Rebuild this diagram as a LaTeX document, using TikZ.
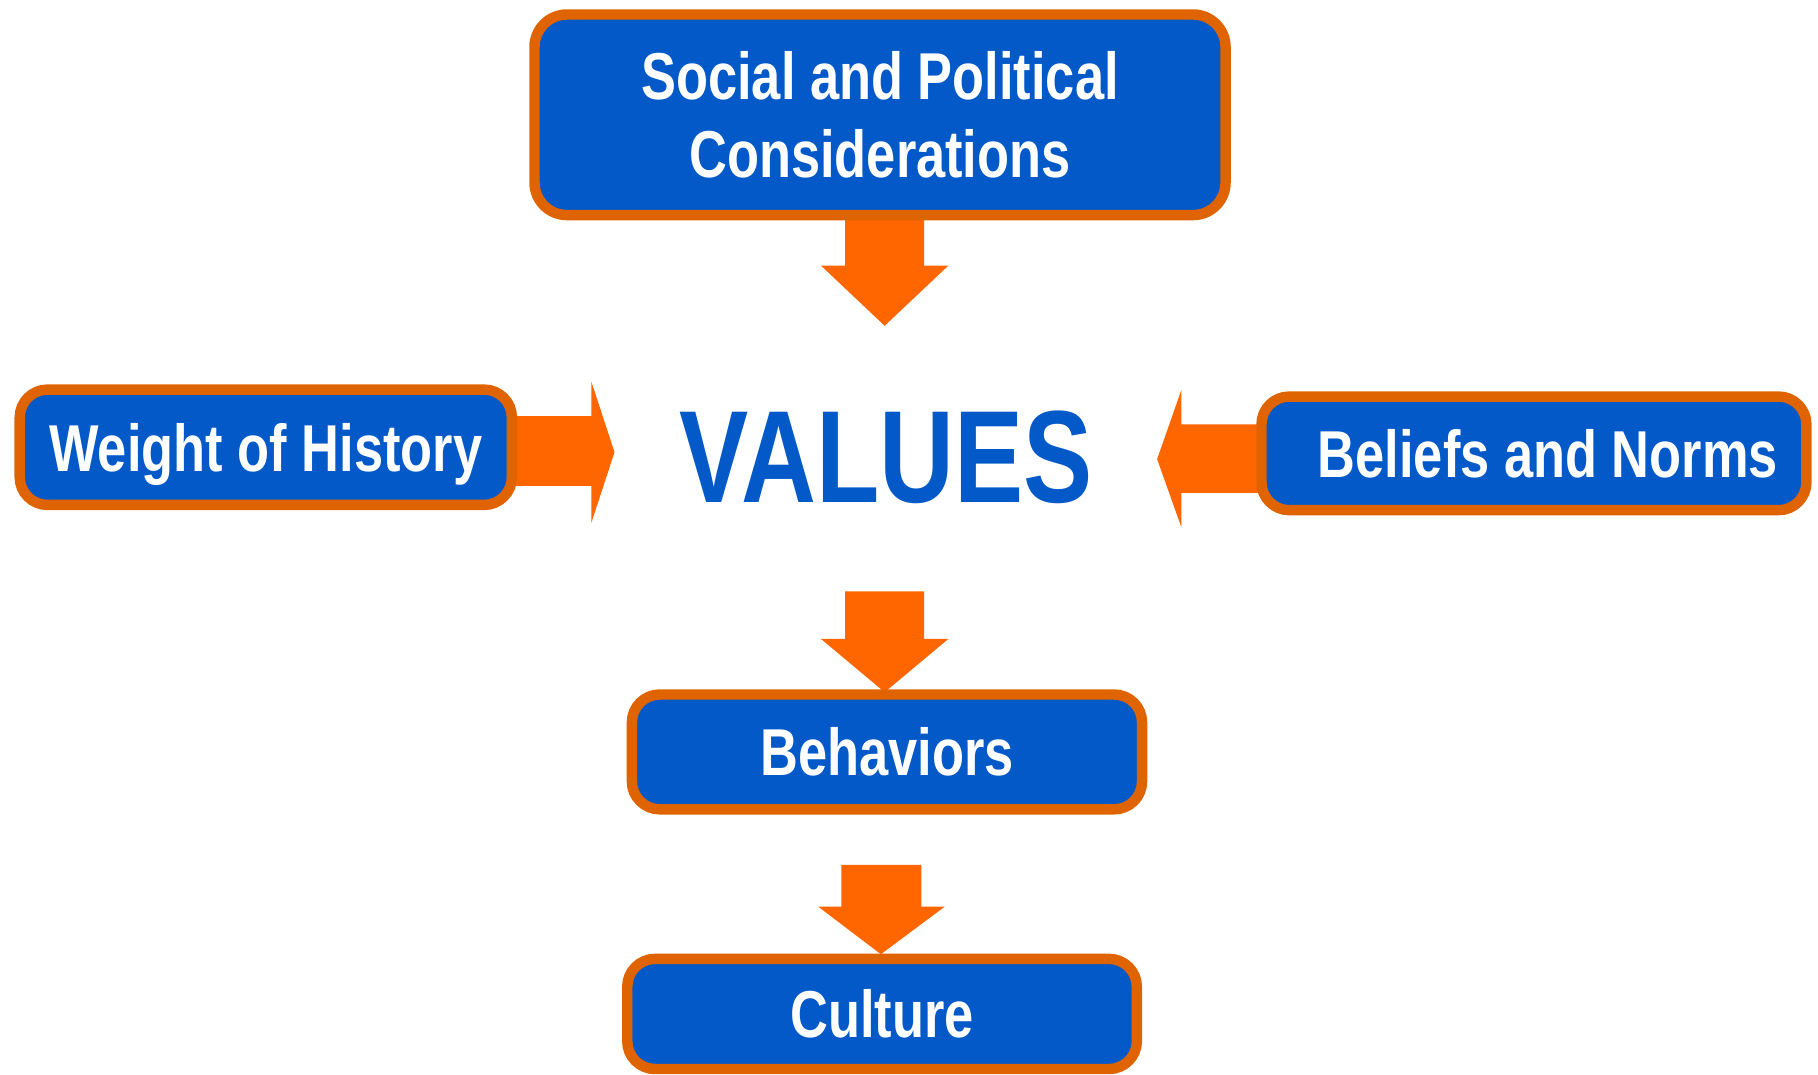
\documentclass[tikz,border=0pt]{standalone}
\usepackage{fontspec}
\newfontfamily\diagfont{Liberation Sans}[FakeStretch=0.79]
\usetikzlibrary{backgrounds,calc}
\definecolor{boxblue}{HTML}{0359C8}
\definecolor{boxorange}{HTML}{DF6400}
\definecolor{arroworange}{HTML}{FF6600}
\begin{document}
\begin{tikzpicture}[x=0.5pt,y=-0.5pt,
  basebox/.style={draw=boxorange, fill=boxblue, line width=4.5pt, rounded corners=12pt,
    text=white, font=\diagfont\bfseries\fontsize{28.6pt}{33.5pt}\selectfont, inner sep=0pt, outer sep=0pt},
  onebox/.style={basebox, text height=20.5pt, text depth=0pt},
  blockarrow/.style={fill=arroworange},
  valuestext/.style={text=boxblue, font=\diagfont\bfseries\fontsize{56.6pt}{60pt}\selectfont, inner sep=0pt}]
\useasboundingbox (0,0) rectangle (1568,927);

\node[basebox, rounded corners=14pt, align=center, minimum width=298pt, minimum height=86.5pt] (top) at (759,99)
  {Social and Political\\Considerations};
\node[onebox, minimum width=212.25pt, minimum height=49.75pt] (weight) at (229.25,385.75) {Weight of History};
\node[onebox, minimum width=235pt, minimum height=49pt] (beliefs) at (1323,391) {\hspace*{12pt}Beliefs and Norms};
\node[valuestext, anchor=base] (values) at (764.5,433) {VALUES};
\node[onebox, minimum width=220pt, minimum height=49.5pt] (behav) at (765,648.5) {Behaviors};
\node[onebox, minimum width=219.75pt, minimum height=47.5pt] (culture) at (760.75,874.5) {Culture};

\begin{pgfonlayer}{background}
  % Social and Political -> VALUES
  \fill[blockarrow] ($(top.south)+(-30,0)$) -- ++(0,43.5) -- ++(-21,0) -- ++(55,52) -- ++(55,-52)
    -- ++(-21,0) -- ++(0,-43.5) -- cycle;
  % Weight of History -> VALUES
  \fill[blockarrow] ($(weight.east)+(0,-26.75)$) -- ++(68.5,0) -- ++(0,-30) -- ++(20,61) -- ++(-20,61)
    -- ++(0,-32) -- ++(-68.5,0) -- cycle;
  % Beliefs and Norms -> VALUES
  \fill[blockarrow] ($(beliefs.west)+(0,-25)$) -- ++(-69,0) -- ++(0,-30) -- ++(-21,60) -- ++(21,59)
    -- ++(0,-30) -- ++(69,0) -- cycle;
  % VALUES -> Behaviors
  \fill[blockarrow] ($(behav.north)+(-2,-2)$) -- ++(-55,-46) -- ++(21,0) -- ++(0,-41) -- ++(68,0)
    -- ++(0,41) -- ++(21,0) -- cycle;
  % Behaviors -> Culture
  \fill[blockarrow] ($(culture.north)+(-1,-4)$) -- ++(-54,-41) -- ++(20,0) -- ++(0,-36) -- ++(69,0)
    -- ++(0,36) -- ++(20,0) -- cycle;
\end{pgfonlayer}
\end{tikzpicture}
\end{document}
